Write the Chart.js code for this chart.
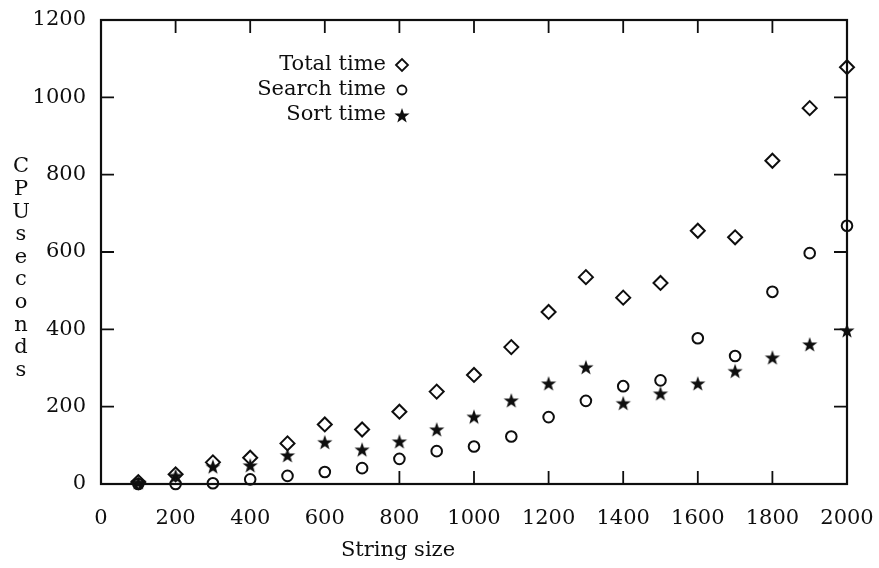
<!DOCTYPE html>
<html>
<head>
<meta charset="utf-8">
<script src="https://cdn.jsdelivr.net/npm/chart.js@4"></script>
<style>
  html, body { margin: 0; padding: 0; background: #fff; }
  #wrap { width: 879px; height: 568px; }
</style>
</head>
<body>
<div id="wrap"><canvas id="myChart" width="879" height="568"></canvas></div>
<script>
// data
const stringSize = [100, 200, 300, 400, 500, 600, 700, 800, 900, 1000,
                    1100, 1200, 1300, 1400, 1500, 1600, 1700, 1800, 1900, 2000];
const totalTime  = [5, 25, 56, 68, 105, 154, 141, 187, 239, 282,
                    354, 445, 535, 482, 520, 655, 638, 836, 972, 1078];
const searchTime = [0, 0, 2, 12, 21, 31, 41, 65, 85, 97,
                    123, 173, 215, 253, 268, 377, 331, 497, 597, 668];
const sortTime   = [5, 22, 46, 49, 75, 109, 90, 111, 142, 175,
                    217, 261, 303, 210, 235, 261, 293, 328, 362, 398];
const xTicks = [0, 200, 400, 600, 800, 1000, 1200, 1400, 1600, 1800, 2000];
const yTicks = [0, 200, 400, 600, 800, 1000, 1200];

const seriesNames = ['Total time', 'Search time', 'Sort time'];
const ink = '#0e0e0e';
const font = '"DejaVu Serif", "Liberation Serif", serif';

// filled five point star used as point style
function makeStar(r) {
    const c = document.createElement('canvas');
    c.width = c.height = r * 2 + 2;
    const g = c.getContext('2d');
    g.fillStyle = ink;
    g.beginPath();
    for (let i = 0; i < 10; i++) {
        const rad = i % 2 ? r * 0.4 : r;
        const a = -Math.PI / 2 + i * Math.PI / 5;
        g.lineTo(c.width / 2 + rad * Math.cos(a), c.height / 2 + 1 + rad * Math.sin(a));
    }
    g.closePath();
    g.fill();
    return c;
}
const star = makeStar(8);

function pts(ys) {
    return stringSize.map((x, i) => ({x: x, y: ys[i]}));
}

// frame, inward ticks, legend and axis titles
const decor = {
    id: 'decor',
    beforeDatasetsDraw(chart) {
        const {ctx, chartArea: a, scales} = chart;
        const len = 13;
        ctx.save();
        ctx.strokeStyle = ink;
        ctx.lineWidth = 1.8;
        xTicks.slice(1, -1).forEach(v => {
            const px = scales.x.getPixelForValue(v);
            ctx.beginPath();
            ctx.moveTo(px, a.top); ctx.lineTo(px, a.top + len);
            // bottom ticks only show from 800 on in the original
            if (v >= 800) { ctx.moveTo(px, a.bottom); ctx.lineTo(px, a.bottom - len); }
            ctx.stroke();
        });
        yTicks.slice(1, -1).forEach(v => {
            const py = scales.y.getPixelForValue(v);
            ctx.beginPath();
            ctx.moveTo(a.left, py); ctx.lineTo(a.left + len, py);
            ctx.moveTo(a.right, py); ctx.lineTo(a.right - len, py);
            ctx.stroke();
        });
        ctx.lineWidth = 2.2;
        ctx.strokeRect(a.left, a.top, a.right - a.left, a.bottom - a.top);
        ctx.restore();
    },
    afterDraw(chart) {
        const ctx = chart.ctx;
        ctx.save();
        ctx.fillStyle = ink;
        ctx.strokeStyle = ink;
        ctx.font = '21px ' + font;
        ctx.textBaseline = 'middle';

        // legend, text right aligned with the marker after it
        ctx.textAlign = 'right';
        seriesNames.forEach((name, i) => {
            const y = 65 + i * 25;
            ctx.fillText(name, 386, y);
            const mx = 402;
            ctx.lineWidth = 1.8;
            ctx.beginPath();
            if (i === 0) {
                ctx.moveTo(mx - 6, y); ctx.lineTo(mx, y - 6);
                ctx.lineTo(mx + 6, y); ctx.lineTo(mx, y + 6);
                ctx.closePath(); ctx.stroke();
            } else if (i === 1) {
                ctx.arc(mx, y, 4.5, 0, Math.PI * 2); ctx.stroke();
            } else {
                ctx.drawImage(star, mx - star.width / 2, y - star.height / 2);
            }
        });

        // x title sits left of centre in the original
        ctx.textAlign = 'center';
        ctx.fillText('String size', 398, 551);

        // y title: upright letters stacked
        'CPUseconds'.split('').forEach((ch, i) => {
            ctx.fillText(ch, 21, 167 + i * 22.6);
        });
        ctx.restore();
    }
};

const ctx = document.getElementById('myChart').getContext('2d');
const myChart = new Chart(ctx, {
    type: 'scatter',
    data: {
        datasets: [{
            label: seriesNames[0],
            data: pts(totalTime),
            pointStyle: 'rectRot',
            pointRadius: 7,
            borderColor: ink,
            backgroundColor: 'rgba(0,0,0,0)',
            pointBorderWidth: 2,
            clip: false
        }, {
            label: seriesNames[1],
            data: pts(searchTime),
            pointStyle: 'circle',
            pointRadius: 5.3,
            borderColor: ink,
            backgroundColor: 'rgba(0,0,0,0)',
            pointBorderWidth: 2,
            clip: false
        }, {
            label: seriesNames[2],
            data: pts(sortTime),
            pointStyle: star,
            pointRadius: 8,
            borderColor: ink,
            backgroundColor: ink,
            clip: false
        }]
    },
    options: {
        responsive: false,
        animation: false,
        events: [],
        layout: {padding: {left: 32, right: 32, top: 20, bottom: 0}},
        plugins: {
            legend: {display: false},
            tooltip: {enabled: false}
        },
        scales: {
            x: {
                type: 'linear',
                min: 0,
                max: 2000,
                afterBuildTicks: s => { s.ticks = xTicks.map(v => ({value: v})); },
                afterFit: s => { s.height = 84; s.paddingLeft = 0; s.paddingRight = 0; },
                grid: {display: false, drawTicks: false},
                border: {display: false},
                ticks: {color: ink, padding: 22, maxRotation: 0, callback: v => String(v),
                        font: {family: font, size: 21}}
            },
            y: {
                min: 0,
                max: 1200,
                afterBuildTicks: s => { s.ticks = yTicks.map(v => ({value: v})); },
                afterFit: s => { s.width = 69; s.paddingTop = 0; s.paddingBottom = 0; },
                grid: {display: false, drawTicks: false},
                border: {display: false},
                ticks: {color: ink, padding: 15, callback: v => String(v),
                        font: {family: font, size: 21}}
            }
        }
    },
    plugins: [decor]
});
</script>
</body>
</html>
